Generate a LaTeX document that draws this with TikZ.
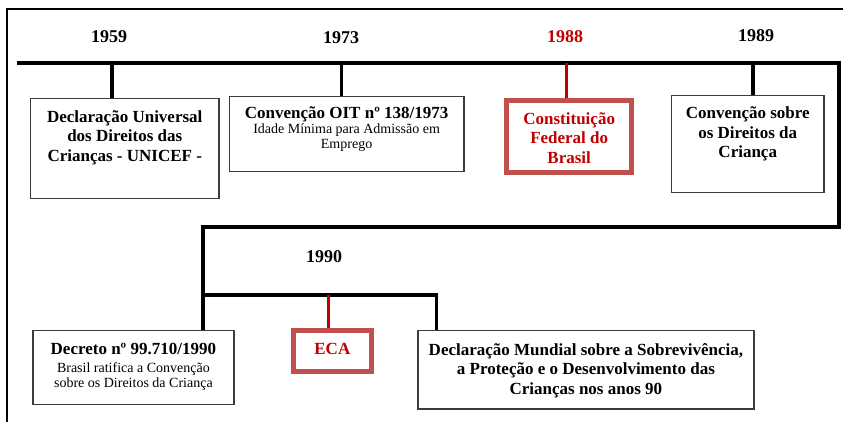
\documentclass[tikz,border=0pt]{standalone}
\usepackage{fontspec}
\setmainfont{Liberation Serif}
\usepackage{tikz}
\definecolor{vermelho}{RGB}{192,0,0}
\definecolor{vermelhoborda}{RGB}{192,80,77}
\definecolor{cinza}{RGB}{60,60,60}
\newcommand{\negrito}{\bfseries\fontsize{17}{19.5}\selectfont}
\newcommand{\miudo}{\mdseries\fontsize{14}{15}\selectfont}
\newcommand{\caixatexto}[4]{\parbox[t][#2][t]{#1}{\centering\vspace*{#3}#4\par}}
\tikzset{
  caixa/.style={draw=cinza, line width=1.2pt, fill=white, inner sep=0pt, anchor=north west},
  destaque/.style={draw=vermelhoborda, line width=5pt, fill=white, inner sep=0pt, anchor=north west, text=vermelho},
  linha/.style={line width=4pt},
  haste/.style={line width=3.4pt},
  ano/.style={font=\fontsize{18}{20}\selectfont\bfseries}
}

\begin{document}
\begin{tikzpicture}[x=1pt,y=-1pt]
\useasboundingbox (0,0) rectangle (843,422);
\draw[line width=2pt] (7.3,422) -- (7.3,9.3) -- (843,9.3);

\node[ano] (a1959) at (109,37) {1959};
\node[ano] (a1973) at (341,38) {1973};
\node[ano, text=vermelho] (a1988) at (565,37) {1988};
\node[ano] (a1989) at (756,36) {1989};
\node[ano] (a1990) at (324,257) {1990};

\node[caixa] (du) at (30,98.3) {\caixatexto{188.3pt}{100pt}{11.7pt}{\negrito Declaração Universal\\ dos Direitos das\\ Crianças - UNICEF -}};
\node[caixa] (oit) at (228.7,96) {\caixatexto{234.6pt}{74.7pt}{10.1pt}{{\negrito Convenção OIT nº 138/1973\par}{\miudo Idade Mínima para Admissão em\\ Emprego\par}}};
\node[destaque] (cf) at (504.2,98.5) {\caixatexto{125pt}{71.7pt}{11.6pt}{\negrito Constituição\\ Federal do\\ Brasil}};
\node[caixa] (cs) at (671,95) {\caixatexto{152.3pt}{96.7pt}{11.1pt}{\negrito Convenção sobre\\ os Direitos da\\ Criança}};
\node[caixa] (dec) at (32.3,330) {\caixatexto{201pt}{74pt}{12.8pt}{{\negrito Decreto nº 99.710/1990\par}\vspace{3pt}{\miudo Brasil ratifica a Convenção\\ sobre os Direitos da Criança\par}}};
\node[destaque] (eca) at (291.2,328.2) {\caixatexto{77.3pt}{41pt}{12.9pt}{\negrito ECA}};
\node[caixa] (dm) at (417.3,330) {\caixatexto{336pt}{78.3pt}{12.8pt}{\negrito Declaração Mundial sobre a Sobrevivência,\\ a Proteção e o Desenvolvimento das\\ Crianças nos anos 90}};

\coordinate (ini) at (17,62.7);
\coordinate (dobra) at (839.3,226.7);
\coordinate (ramo) at (203.3,226.7);
\coordinate (b1990) at (203.3,295);
\coordinate (teca) at (328.3,295);
\coordinate (tdm) at (436.5,295);
\coordinate (t1959) at (112,62.7);
\coordinate (t1973) at (341.7,62.7);
\coordinate (t1988) at (566.7,62.7);
\coordinate (t1989) at (753,62.7);

\draw[linha] (ini) -| (dobra) -- (ramo) -- (ramo |- dec.north);
\foreach \ano/\cx in {1959/du, 1973/oit, 1989/cs} {
	\draw[haste] (t\ano) -- (t\ano |- \cx.north);
	};
\draw[haste, vermelho] (t1988) -- (t1988 |- cf.north);
\draw[haste] (b1990) -- (tdm) -- (tdm |- dm.north);
\draw[haste, vermelho] (teca) -- (teca |- eca.north);
\end{tikzpicture}
\end{document}
